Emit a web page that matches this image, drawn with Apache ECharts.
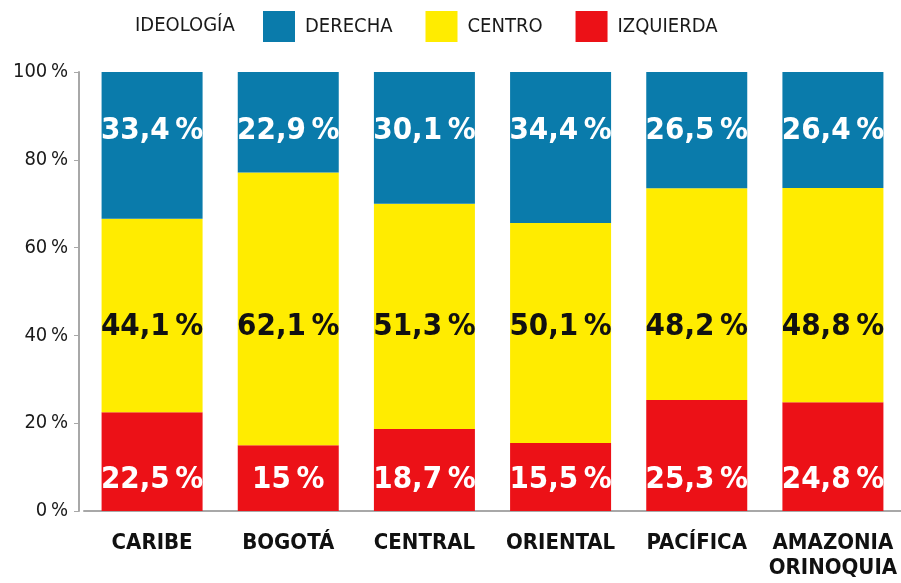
<!DOCTYPE html>
<html>
<head>
<meta charset="utf-8">
<script src="https://cdn.jsdelivr.net/npm/echarts@6/dist/echarts.min.js"></script>
<style>
	html, body { margin: 0; padding: 0; background: #fff; }
	#main { width: 901px; height: 583px; }
</style>
</head>
<body>
<div id="main"></div>
<script>
var regiones = ['CARIBE', 'BOGOTÁ', 'CENTRAL', 'ORIENTAL', 'PACÍFICA', 'AMAZONIA\nORINOQUIA'];
var derecha = [33.4, 22.9, 30.1, 34.4, 26.5, 26.4];
var centro = [44.1, 62.1, 51.3, 50.1, 48.2, 48.8];
var izquierda = [22.5, 15, 18.7, 15.5, 25.3, 24.8];
var ticks = [0, 20, 40, 60, 80, 100];

var narrow = '"DejaVu Sans Condensed", "Liberation Sans Narrow", sans-serif';

function pct(v) {
	return String(v).replace('.', ',') + '\u2009%';
}

var barLabel = {
	show: true,
	fontFamily: narrow,
	fontSize: 31,
	fontWeight: 'bold',
	color: '#fff',
	formatter: function (p) { return pct(p.value); }
};

var myChart = echarts.init(document.getElementById('main'));
var option = {
	color: ['#ec1117', '#ffec00', '#0a7bab'],
	title: {
		text: 'IDEOLOGÍA',
		left: 130,
		top: 11,
		textStyle: { fontFamily: narrow, fontSize: 20, fontWeight: 'normal', color: '#1a1a1a' }
	},
	legend: {
		data: ['DERECHA', 'CENTRO', 'IZQUIERDA'],
		left: 258,
		top: 6,
		icon: 'rect',
		itemWidth: 32,
		itemHeight: 31,
		itemGap: 33,
		textStyle: { fontFamily: narrow, fontSize: 20, color: '#1a1a1a', padding: [0, 0, 0, 5] }
	},
	grid: {
		left: 84,
		top: 72,
		width: 822,
		height: 439
	},
	xAxis: {
		type: 'category',
		data: regiones,
		axisLine: { lineStyle: { color: '#a8a8a8', width: 2 } },
		axisTick: { show: false },
		axisLabel: {
			interval: 0,
			margin: 20,
			fontFamily: narrow,
			fontSize: 22,
			fontWeight: 'bold',
			lineHeight: 25,
			color: '#111'
		}
	},
	yAxis: {
		type: 'value',
		min: ticks[0],
		max: ticks[ticks.length - 1],
		interval: 20,
		offset: 5,
		splitLine: { show: false },
		axisLine: { show: true, lineStyle: { color: '#a8a8a8', width: 2 } },
		axisTick: { show: true, length: 5, lineStyle: { color: '#a8a8a8', width: 1 } },
		axisLabel: {
			margin: 11,
			fontFamily: narrow,
			fontSize: 20,
			color: '#1a1a1a',
			formatter: function (v) { return v + '\u2009%'; }
		}
	},
	series: [
		{
			name: 'IZQUIERDA',
			type: 'bar',
			stack: 'total',
			barWidth: 101,
			data: izquierda,
			label: Object.assign({ position: 'insideBottom', distance: 16 }, barLabel)
		},
		{
			name: 'CENTRO',
			type: 'bar',
			stack: 'total',
			barWidth: 101,
			data: centro
		},
		{
			name: 'DERECHA',
			type: 'bar',
			stack: 'total',
			barWidth: 101,
			data: derecha,
			label: Object.assign({ position: 'insideTop', distance: 43 }, barLabel)
		},
		{
			// etiquetas del centro, todas a la misma altura
			name: 'centroEtiqueta',
			type: 'scatter',
			symbolSize: 1,
			itemStyle: { color: 'transparent', opacity: 1 },
			silent: true,
			z: 5,
			data: centro.map(function (v, i) { return [i, 42]; }),
			label: Object.assign({}, barLabel, {
				position: 'inside',
				color: '#111',
				formatter: function (p) { return pct(centro[p.dataIndex]); }
			})
		}
	]
};

myChart.setOption(option);
</script>
</body>
</html>
